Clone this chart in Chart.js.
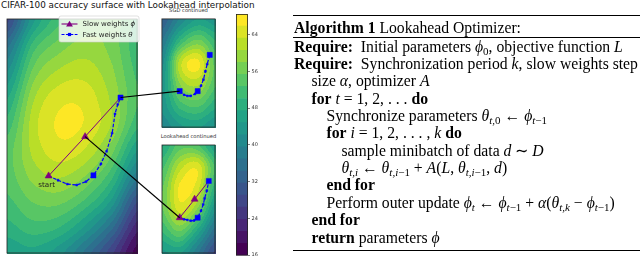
<!DOCTYPE html>
<html><head><meta charset="utf-8">
<script src="https://cdn.jsdelivr.net/npm/chart.js@4.4.0/dist/chart.umd.min.js"></script>
<style>
html,body{margin:0;padding:0;background:#fff;width:640px;height:260px;overflow:hidden;position:relative;}
canvas{position:absolute;display:block;}
.t{position:absolute;white-space:nowrap;font-family:"DejaVu Sans",sans-serif;color:#111;}
#alg{position:absolute;left:293px;top:0;width:347px;height:260px;overflow:hidden;font-family:"Liberation Serif","Times New Roman",serif;font-size:15.7px;color:#000;}
#alg .ln{position:absolute;white-space:nowrap;line-height:17px;height:17px;}
#alg .rule{position:absolute;left:0;width:347px;background:#000;}
#alg sub{font-size:70%;vertical-align:-0.28em;line-height:0;}
#alg i{font-style:italic;}
</style></head><body>
<div class="t" id="title" style="left:1px;top:0px;font-size:8.8px;line-height:10px;">CIFAR-100 accuracy surface with Lookahead interpolation</div>
<div class="t" style="left:157px;top:6.5px;width:63px;text-align:center;font-size:5.2px;line-height:6px;color:#333;">SGD continued</div>
<div class="t" style="left:157px;top:132.5px;width:63px;text-align:center;font-size:5.2px;line-height:6px;color:#333;">Lookahead continued</div>
<canvas id="cMain" width="140" height="244" style="left:2px;top:14px;"></canvas>
<canvas id="cSgd" width="63" height="118" style="left:157px;top:14px;"></canvas>
<canvas id="cLa" width="63" height="118" style="left:157px;top:140px;"></canvas>
<canvas id="cBar" width="30" height="260" style="left:236px;top:0px;"></canvas>
<canvas id="cLink" width="280" height="260" style="left:0;top:0;pointer-events:none;"></canvas>
<div id="alg">
  <div class="rule" style="top:15px;height:1.3px;"></div>
  <div class="ln" style="left:1px;top:18.5px;"><b>Algorithm 1</b> Lookahead Optimizer:</div>
  <div class="rule" style="top:36.5px;height:0.8px;"></div>
  <div class="ln" style="left:1px;top:37.5px;"><b>Require:</b>&nbsp; Initial parameters <i>ϕ</i><sub>0</sub>, objective function <i>L</i></div>
  <div class="ln" style="left:1px;top:54.9px;"><b>Require:</b>&nbsp; Synchronization period <i>k</i>, slow weights step</div>
  <div class="ln" style="left:18.5px;top:72.2px;">size <i>α</i>, optimizer <i>A</i></div>
  <div class="ln" style="left:18.5px;top:89.6px;"><b>for</b> <i>t</i> = 1, 2, . . . <b>do</b></div>
  <div class="ln" style="left:33.5px;top:106.9px;">Synchronize parameters <i>θ</i><sub><i>t</i>,0</sub> ← <i>ϕ</i><sub><i>t</i>−1</sub></div>
  <div class="ln" style="left:33.5px;top:124.3px;"><b>for</b> <i>i</i> = 1, 2, . . . , <i>k</i> <b>do</b></div>
  <div class="ln" style="left:48.5px;top:141.7px;">sample minibatch of data <i>d</i> ∼ <i>D</i></div>
  <div class="ln" style="left:48.5px;top:159.0px;"><i>θ</i><sub><i>t,i</i></sub> ← <i>θ</i><sub><i>t,i</i>−1</sub> + <i>A</i>(<i>L</i>, <i>θ</i><sub><i>t,i</i>−1</sub>, <i>d</i>)</div>
  <div class="ln" style="left:33.5px;top:176.4px;"><b>end for</b></div>
  <div class="ln" style="left:33.5px;top:193.8px;">Perform outer update <i>ϕ</i><sub><i>t</i></sub> ← <i>ϕ</i><sub><i>t</i>−1</sub> + <i>α</i>(<i>θ</i><sub><i>t,k</i></sub> − <i>ϕ</i><sub><i>t</i>−1</sub>)</div>
  <div class="ln" style="left:18.5px;top:211.1px;"><b>end for</b></div>
  <div class="ln" style="left:18.5px;top:228.5px;"><b>return</b> parameters <i>ϕ</i></div>
  <div class="rule" style="top:250px;height:1.3px;"></div>
</div>
<script>
// ---------------- DATA ----------------
// contour level boundaries (colour bar) and colour-bar ticks
const LEVELS = [15.9,18.53,21.16,23.79,26.42,29.05,31.68,34.31,36.94,39.57,42.2,44.83,47.46,50.09,52.72,55.35,57.98,60.61,63.24,65.87,68.5];
const CBAR_TICKS = [16,24,32,40,48,56,64];

// main panel: accuracy surface sampled on a grid (rows top -> bottom)
const MAIN_GX = [0,2,4,6,8,10];
const MAIN_GY = [18,16,14,12,10,8,6,4,2,0];
const MAIN_Z = [
  [28,44,52,56,57,52],
  [36,51,56.5,59,57,51],
  [42,56,61,62,58.5,52],
  [47,60,64.8,64.8,60,53],
  [51,62,66.3,65.6,60.5,51],
  [54,61.4,64.9,63,56.5,45],
  [54,59,61,58,51,38],
  [52,55.5,56,52,44,29],
  [49,51.5,50,44,35,22],
  [45,46.5,43,36,27,17]
];
const MAIN_SLOW_X = [3.21,6.0,8.71];
const MAIN_SLOW_Y = [5.94,8.95,11.95];
const MAIN_FAST_X = [3.21,3.93,4.64,5.36,6.07,6.64,7.21,7.64,8.07,8.29,8.50,8.71];
const MAIN_FAST_Y = [5.94,5.61,5.31,5.24,5.50,5.98,6.86,7.82,9.22,10.70,11.43,11.95];
const MAIN_FAST_SYNC = [5,11];

// "SGD continued" panel
const SUB_GX = [0,1,2,3];
const SUB_GY = [5,4,3,2,1,0];
const SGD_Z = [
  [32,40,45,43],
  [37,50,56,50],
  [41,62,66.5,54],
  [43,58,61,53],
  [43,51,53,48],
  [40,44,45,42]
];
const SGD_FAST_X = [1.01,1.25,1.44,1.62,1.86,2.01,2.20,2.33,2.44,2.54,2.68];
const SGD_FAST_Y = [1.67,1.50,1.45,1.45,1.54,1.67,1.92,2.20,2.58,2.91,3.33];
const SGD_FAST_SYNC = [0,5,10];

// "Lookahead continued" panel
const LA_Z = [
  [47,54,53,45],
  [52,62,65,52],
  [55,66.5,64,48],
  [55,64,57,42],
  [50,55,46,35],
  [44,45,37,28]
];
const LA_SLOW_X = [1.01,1.84,2.63];
const LA_SLOW_Y = [1.64,2.49,3.33];
const LA_FAST_X = [1.01,1.25,1.44,1.62,1.81,2.01,2.20,2.32,2.40,2.52,2.63];
const LA_FAST_Y = [1.64,1.57,1.54,1.50,1.51,1.64,1.96,2.25,2.53,2.88,3.33];
const LA_FAST_SYNC = [5,10];

// ---------------- COLOURS ----------------
const VIRIDIS = [[68,1,84],[72,36,117],[65,68,135],[53,95,141],[42,120,142],[33,145,140],[34,168,132],[68,191,112],[122,209,81],[189,223,38],[253,231,37]];
function viridis(t){
  t = Math.max(0, Math.min(1, t));
  const s = t*10, i = Math.min(9, Math.floor(s)), f = s - i;
  const a = VIRIDIS[i], b = VIRIDIS[i+1];
  return [0,1,2].map(k => Math.round(a[k] + (b[k]-a[k])*f));
}
const NB = LEVELS.length - 1;
const BAND_RGB = LEVELS.slice(0,-1).map((_, i) => viridis(i/(NB-1)));
const rgbStr = c => `rgb(${c[0]},${c[1]},${c[2]})`;
function bandOf(v){ for (let i = NB-1; i >= 0; i--) if (v >= LEVELS[i]) return i; return 0; }

// ---------------- FIELD RENDERING ----------------
function locate(arr, v){
  const n = arr.length, asc = arr[n-1] > arr[0];
  for (let j = 0; j < n-1; j++){
    const a = arr[j], b = arr[j+1];
    if (asc ? v <= b : v >= b) return j + (v - a)/(b - a);
  }
  return n - 1;
}
function cr(p0,p1,p2,p3,t){
  return 0.5*(2*p1 + (-p0+p2)*t + (2*p0-5*p1+4*p2-p3)*t*t + (-p0+3*p1-3*p2+p3)*t*t*t);
}
function sampleGrid(gz, fi, fj){
  const R = gz.length, C = gz[0].length;
  const i = Math.min(R-2, Math.max(0, Math.floor(fi))), j = Math.min(C-2, Math.max(0, Math.floor(fj)));
  const ti = fi - i, tj = fj - j;
  const g = (r,c) => gz[Math.max(0, Math.min(R-1, r))][Math.max(0, Math.min(C-1, c))];
  const rows = [];
  for (let k = -1; k <= 2; k++) rows.push(cr(g(i+k,j-1), g(i+k,j), g(i+k,j+1), g(i+k,j+2), tj));
  return cr(rows[0], rows[1], rows[2], rows[3], ti);
}
function fieldPlugin(gx, gy, gz){
  return {
    id: 'field',
    beforeDatasetsDraw(chart){
      const {ctx, chartArea: a, scales: {x, y}} = chart;
      const w = Math.round(a.right - a.left), h = Math.round(a.bottom - a.top);
      const img = ctx.createImageData(w, h);
      for (let py = 0; py < h; py++){
        const fi = locate(gy, y.getValueForPixel(a.top + py + 0.5));
        for (let px = 0; px < w; px++){
          const fj = locate(gx, x.getValueForPixel(a.left + px + 0.5));
          const c = BAND_RGB[bandOf(sampleGrid(gz, fi, fj))];
          const o = (py*w + px)*4;
          img.data[o] = c[0]; img.data[o+1] = c[1]; img.data[o+2] = c[2]; img.data[o+3] = 255;
        }
      }
      ctx.putImageData(img, Math.round(a.left), Math.round(a.top));
    }
  };
}
const framePlugin = {
  id: 'frame',
  afterDraw(chart){
    const {ctx, chartArea: a} = chart;
    ctx.save(); ctx.strokeStyle = '#222'; ctx.lineWidth = 0.8;
    ctx.strokeRect(a.left + 0.4, a.top + 0.4, a.right - a.left - 0.8, a.bottom - a.top - 0.8);
    ctx.restore();
  }
};

// ---------------- HELPERS ----------------
const pts = (xs, ys) => xs.map((x, i) => ({x, y: ys[i]}));
const SLOW_C = '#800080', FAST_C = '#0000ff';
function slowLine(xs, ys){
  return {label: 'Slow weights ϕ', data: pts(xs, ys), showLine: true, borderColor: SLOW_C, borderWidth: 1, pointRadius: 0, order: 3};
}
function slowMarks(xs, ys){
  return {label: 'slow', data: pts(xs, ys), showLine: false, pointStyle: 'triangle', pointRadius: 4,
          backgroundColor: SLOW_C, borderColor: SLOW_C, borderWidth: 0.6, order: 1};
}
function fastLine(xs, ys, sync, hideFirst){
  return {label: 'Fast weights θ', data: pts(xs, ys), showLine: true, borderColor: FAST_C, borderWidth: 1.2,
          borderDash: [3.5, 1.6], pointStyle: 'rect',
          pointRadius: xs.map((_, i) => (i === 0 && hideFirst) ? 0 : (sync.includes(i) ? 3.6 : 1.3)),
          pointBackgroundColor: FAST_C, pointBorderColor: FAST_C, pointBorderWidth: 0.5, order: 2};
}
function panel(id, xmax, ymax, gx, gy, gz, datasets, extra){
  return new Chart(document.getElementById(id), {
    type: 'scatter',
    data: {datasets},
    options: {
      responsive: false, animation: false, events: [],
      layout: {padding: 0},
      scales: {x: {type: 'linear', min: 0, max: xmax, display: false}, y: {type: 'linear', min: 0, max: ymax, display: false}},
      plugins: {legend: {display: false}, tooltip: {enabled: false}}
    },
    plugins: [fieldPlugin(gx, gy, gz), framePlugin].concat(extra || [])
  });
}

// legend + "start" label for the main panel
const mainDecor = {
  id: 'mainDecor',
  afterDraw(chart){
    const {ctx, scales: {x, y}} = chart;
    ctx.save();
    // start label
    ctx.fillStyle = '#222'; ctx.font = '7.2px "DejaVu Sans"'; ctx.textAlign = 'center'; ctx.textBaseline = 'middle';
    ctx.fillText('start', x.getPixelForValue(MAIN_SLOW_X[0]) - 2, y.getPixelForValue(MAIN_SLOW_Y[0]) + 9);
    // legend box
    const bx = 57, by = 2, bw = 80, bh = 26, r = 2;
    ctx.beginPath();
    ctx.moveTo(bx + r, by); ctx.lineTo(bx + bw - r, by); ctx.arcTo(bx + bw, by, bx + bw, by + r, r);
    ctx.lineTo(bx + bw, by + bh - r); ctx.arcTo(bx + bw, by + bh, bx + bw - r, by + bh, r);
    ctx.lineTo(bx + r, by + bh); ctx.arcTo(bx, by + bh, bx, by + bh - r, r);
    ctx.lineTo(bx, by + r); ctx.arcTo(bx, by, bx + r, by, r); ctx.closePath();
    ctx.fillStyle = 'rgba(255,255,255,0.8)'; ctx.fill();
    ctx.strokeStyle = '#cccccc'; ctx.lineWidth = 0.6; ctx.stroke();
    const rows = [
      {y: by + 8, c: SLOW_C, dash: [], mark: 'tri', txt: 'Slow weights ', sym: 'ϕ'},
      {y: by + 18.5, c: FAST_C, dash: [3, 1.4], mark: 'sq', txt: 'Fast weights ', sym: 'θ'}
    ];
    rows.forEach(rw => {
      ctx.strokeStyle = rw.c; ctx.fillStyle = rw.c; ctx.lineWidth = 1.1; ctx.setLineDash(rw.dash);
      ctx.beginPath(); ctx.moveTo(bx + 2.5, rw.y); ctx.lineTo(bx + 18.5, rw.y); ctx.stroke(); ctx.setLineDash([]);
      const mx = bx + 10.5;
      if (rw.mark === 'tri'){
        ctx.beginPath(); ctx.moveTo(mx, rw.y - 3.2); ctx.lineTo(mx + 3.4, rw.y + 2.4); ctx.lineTo(mx - 3.4, rw.y + 2.4); ctx.closePath(); ctx.fill();
      } else {
        ctx.fillRect(mx - 1.6, rw.y - 1.6, 3.2, 3.2);
      }
      ctx.fillStyle = '#222'; ctx.textAlign = 'left'; ctx.textBaseline = 'middle';
      ctx.font = '7px "DejaVu Sans"';
      ctx.fillText(rw.txt, bx + 23.5, rw.y + 0.3);
      const w = ctx.measureText(rw.txt).width;
      ctx.font = 'italic 7px "DejaVu Sans"';
      ctx.fillText(rw.sym, bx + 23.5 + w, rw.y + 0.3);
    });
    ctx.restore();
  }
};

// ---------------- CHARTS ----------------
const mainChart = panel('cMain', 10, 18, MAIN_GX, MAIN_GY, MAIN_Z, [
  slowLine(MAIN_SLOW_X, MAIN_SLOW_Y),
  fastLine(MAIN_FAST_X, MAIN_FAST_Y, MAIN_FAST_SYNC, true),
  slowMarks(MAIN_SLOW_X.slice(0, 2), MAIN_SLOW_Y.slice(0, 2))
], [mainDecor]);

const sgdChart = panel('cSgd', 3, 5, SUB_GX, SUB_GY, SGD_Z, [
  fastLine(SGD_FAST_X, SGD_FAST_Y, SGD_FAST_SYNC, false)
]);

const laChart = panel('cLa', 3, 5, SUB_GX, SUB_GY, LA_Z, [
  slowLine(LA_SLOW_X, LA_SLOW_Y),
  fastLine(LA_FAST_X, LA_FAST_Y, LA_FAST_SYNC, true),
  slowMarks(LA_SLOW_X.slice(0, 2), LA_SLOW_Y.slice(0, 2))
]);

// colour bar
new Chart(document.getElementById('cBar'), {
  type: 'bar',
  data: {
    labels: ['accuracy'],
    datasets: LEVELS.slice(0, -1).map((lo, i) => ({
      data: [[lo, LEVELS[i + 1]]], backgroundColor: rgbStr(BAND_RGB[i]), borderWidth: 0,
      barPercentage: 1, categoryPercentage: 1, grouped: false
    }))
  },
  options: {
    responsive: false, animation: false, events: [],
    layout: {padding: {top: 14, bottom: 2, left: 0, right: 0}},
    scales: {
      x: {display: false},
      y: {
        position: 'right', min: LEVELS[0], max: LEVELS[LEVELS.length - 1],
        afterFit(s){ s.width = 18; },
        afterBuildTicks(s){ s.ticks = CBAR_TICKS.map(v => ({value: v})); },
        ticks: {font: {size: 5, family: 'DejaVu Sans'}, color: '#333', padding: 1.5, autoSkip: false, callback: v => String(v)},
        grid: {drawOnChartArea: false, tickLength: 2, color: '#333', lineWidth: 0.6},
        border: {display: false}
      }
    },
    plugins: {legend: {display: false}, tooltip: {enabled: false}}
  },
  plugins: [framePlugin]
});

// connecting lines between panels (through the panels' scales)
(function(){
  const link = document.getElementById('cLink').getContext('2d');
  const base = document.getElementById('cLink').getBoundingClientRect();
  function pagePt(chart, xv, yv){
    const r = chart.canvas.getBoundingClientRect();
    return [r.left - base.left + chart.scales.x.getPixelForValue(xv), r.top - base.top + chart.scales.y.getPixelForValue(yv)];
  }
  const pairs = [
    [pagePt(mainChart, MAIN_FAST_X[MAIN_FAST_X.length - 1], MAIN_FAST_Y[MAIN_FAST_Y.length - 1]), pagePt(sgdChart, SGD_FAST_X[0], SGD_FAST_Y[0])],
    [pagePt(mainChart, MAIN_SLOW_X[1], MAIN_SLOW_Y[1]), pagePt(laChart, LA_SLOW_X[0], LA_SLOW_Y[0])]
  ];
  link.strokeStyle = '#000'; link.lineWidth = 1.2;
  pairs.forEach(([a, b]) => { link.beginPath(); link.moveTo(a[0], a[1]); link.lineTo(b[0], b[1]); link.stroke(); });
})();
</script>
</body></html>
